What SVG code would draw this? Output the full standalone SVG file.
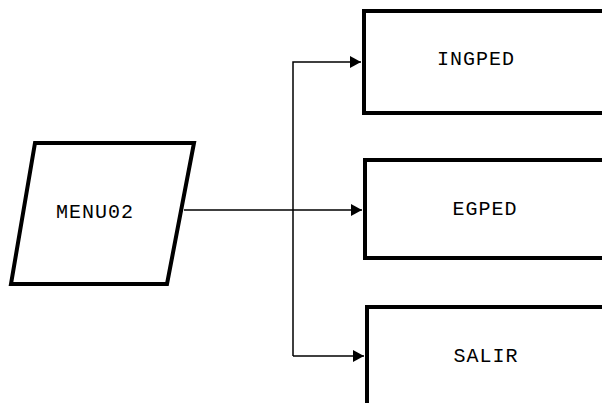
<svg xmlns="http://www.w3.org/2000/svg" width="602" height="403" viewBox="0 0 602 403">
<style>
.shape{fill:#fff;stroke:#000;stroke-width:4}
.conn{fill:none;stroke:#000;stroke-width:1.5}
.lbl{font-family:"Liberation Mono",monospace;font-size:20px;letter-spacing:1px;fill:#000;text-anchor:middle;dominant-baseline:central}
</style>
<defs>
<marker id="arr" markerWidth="11" markerHeight="12" refX="11" refY="6" orient="auto" markerUnits="userSpaceOnUse">
<path d="M0,0 L11,6 L0,12 Z" fill="#000"/>
</marker>
</defs>
<g id="menu02">
<polygon class="shape" points="35,143 194,143 167,284 11,284"/>
<text class="lbl" x="95" y="212">MENU02</text>
</g>
<g id="ingped">
<rect class="shape" x="364" y="11" width="250" height="102"/>
<text class="lbl" x="476" y="59">INGPED</text>
</g>
<g id="egped">
<rect class="shape" x="365" y="160" width="250" height="98"/>
<text class="lbl" x="485" y="209">EGPED</text>
</g>
<g id="salir">
<rect class="shape" x="367" y="307" width="250" height="110"/>
<text class="lbl" x="486" y="356">SALIR</text>
</g>
<g id="connectors">
<path class="conn" d="M184,210 L362,210" marker-end="url(#arr)"/>
<path class="conn" d="M293,356 L293,62 L361,62" marker-end="url(#arr)"/>
<path class="conn" d="M293,356 L364,356" marker-end="url(#arr)"/>
</g>
</svg>
